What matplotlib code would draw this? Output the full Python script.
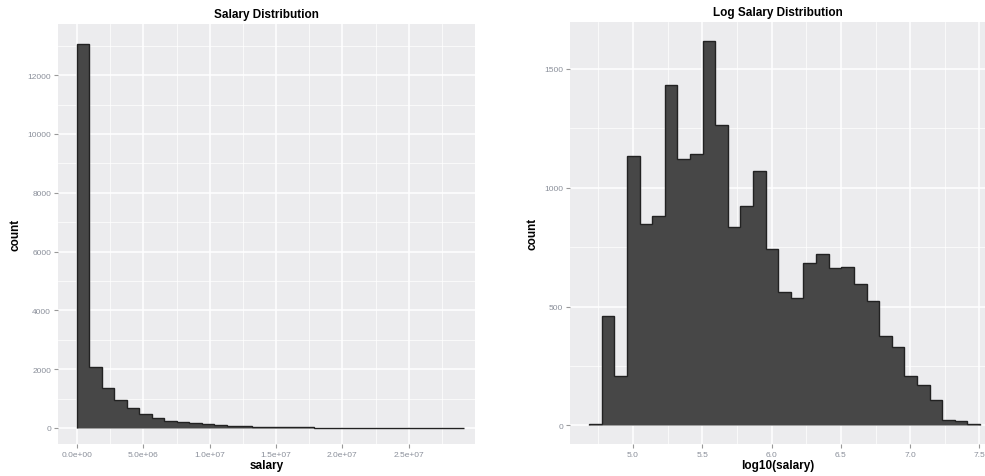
import numpy as np
import matplotlib.pyplot as plt
from matplotlib.ticker import MultipleLocator

# salary histogram (raw), 31 bins starting at 0
sal_start = 0.0
sal_width = 0.94e6
sal_counts = [13050, 2075, 1360, 950, 670, 475, 340, 250, 200, 165, 125, 100, 80, 60, 45,
              35, 28, 22, 18, 14, 11, 9, 8, 6, 5, 4, 3, 3, 2, 2, 2]
sal_ticks = [0, 5e6, 1e7, 1.5e7, 2e7, 2.5e7]
sal_ticklabels = ["0.0e+00", "5.0e+06", "1.0e+07", "1.5e+07", "2.0e+07", "2.5e+07"]
sal_yticks = [0, 2000, 4000, 6000, 8000, 10000, 12000]

# log10 salary histogram
log_start = 4.683
log_width = 0.091
log_counts = [4, 462, 206, 1134, 849, 882, 1433, 1122, 1143, 1618, 1265, 836, 924, 1071, 744,
              563, 538, 685, 723, 664, 668, 597, 525, 378, 332, 210, 172, 105, 25, 18, 8]
log_ticks = [5.0, 5.5, 6.0, 6.5, 7.0, 7.5]
log_yticks = [0, 500, 1000, 1500]

plt.rcParams['font.family'] = ['Liberation Sans', 'DejaVu Sans']

fig = plt.figure(figsize=(9.85, 4.77), dpi=100)
ax1 = fig.add_axes([0.0589, 0.0671, 0.4234, 0.8805])
ax2 = fig.add_axes([0.5787, 0.0671, 0.4213, 0.8847])


def style(ax):
    ax.set_facecolor('#ececee')
    for s in ax.spines.values():
        s.set_visible(False)
    ax.grid(which='major', color='white', linewidth=1.1)
    ax.grid(which='minor', color='white', linewidth=0.5)
    ax.set_axisbelow(True)
    ax.tick_params(which='major', length=3, color='#999999', labelsize=6, labelcolor='#8a8f9a', pad=2)
    ax.tick_params(which='minor', length=0)


def hist(ax, start, width, counts):
    edges = start + width * np.arange(len(counts) + 1)
    ax.stairs(counts, edges, fill=True, facecolor='#474747',
              edgecolor='#222222', linewidth=1.0)


hist(ax1, sal_start, sal_width, sal_counts)
style(ax1)
ax1.set_xlim(-1.43e6, 30.0e6)
ax1.set_ylim(-544, 13740)
ax1.set_xticks(sal_ticks, sal_ticklabels)
ax1.set_yticks(sal_yticks)
ax1.xaxis.set_minor_locator(MultipleLocator(2.5e6))
ax1.yaxis.set_minor_locator(MultipleLocator(1000))
ax1.set_title('Salary Distribution', fontsize=8.5, fontweight='bold', pad=5)
ax1.set_xlabel('salary', fontsize=8.5, fontweight='bold', labelpad=1)
ax1.set_ylabel('count', fontsize=8.5, fontweight='bold', labelpad=4)

hist(ax2, log_start, log_width, log_counts)
style(ax2)
ax2.set_xlim(4.545, 7.54)
ax2.set_ylim(-78, 1697)
ax2.set_xticks(log_ticks, ["5.0", "5.5", "6.0", "6.5", "7.0", "7.5"])
ax2.set_yticks(log_yticks)
ax2.xaxis.set_minor_locator(MultipleLocator(0.25))
ax2.yaxis.set_minor_locator(MultipleLocator(250))
ax2.set_title('Log Salary Distribution', fontsize=8.5, fontweight='bold', pad=5)
ax2.set_xlabel('log10(salary)', fontsize=8.5, fontweight='bold', labelpad=1)
ax2.set_ylabel('count', fontsize=8.5, fontweight='bold', labelpad=4)

fig.savefig('out.png', dpi=100)
